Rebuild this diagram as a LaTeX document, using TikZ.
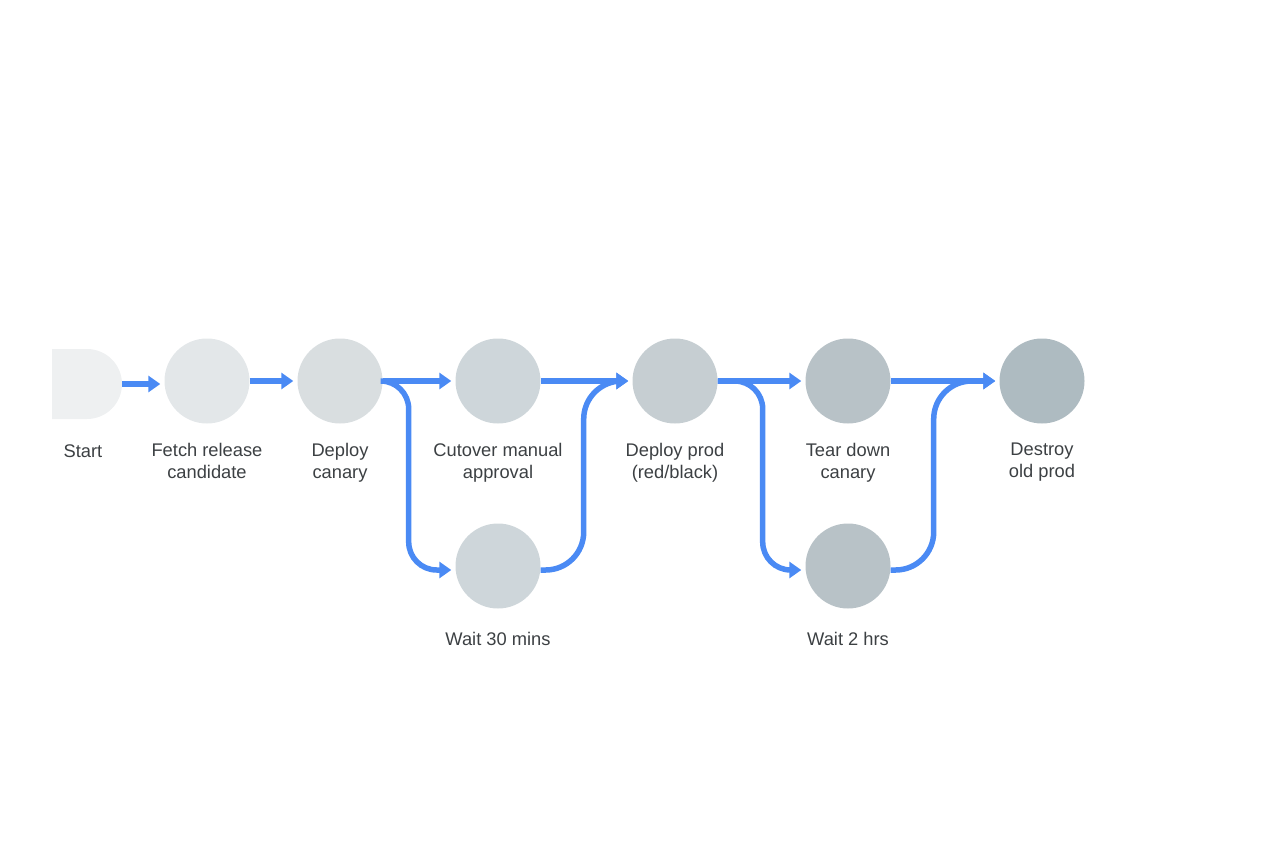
\documentclass[tikz,border=0pt]{standalone}
\usepackage{fontspec}
\setmainfont{Liberation Sans}
\usetikzlibrary{arrows.meta}
\definecolor{flowblue}{HTML}{4A8AF4}
\definecolor{txt}{HTML}{3C4043}
\definecolor{c0}{HTML}{EEF0F1}
\definecolor{c1}{HTML}{E3E7E9}
\definecolor{c2}{HTML}{D9DEE0}
\definecolor{c3}{HTML}{CED6DA}
\definecolor{c4}{HTML}{C6CED2}
\definecolor{c5}{HTML}{B8C2C7}
\definecolor{c6}{HTML}{AEBBC1}
\tikzset{
  stage/.style={circle, minimum size=85pt, inner sep=0pt, fill=#1, draw=none},
  lbl/.style={text=txt, align=center, font=\fontsize{18.3pt}{22pt}\selectfont, inner sep=0pt},
  flow/.style={draw=flowblue, line width=5.5pt, -{Triangle[length=12pt,width=16pt]}, shorten >=4pt},
  bend/.style={flow, rounded corners=#1},
}
\begin{document}
\begin{tikzpicture}[x=1pt,y=-1pt]
\useasboundingbox (0,0) rectangle (1276,856);
% start shape
\fill[c0] (52,349) [rounded corners=35pt]-- (122,349) -- (122,419) [sharp corners]-- (52,419) -- cycle;
\coordinate (start) at (122,384);
\node[stage=c1] (fetch) at (207,381) {};
\node[stage=c2] (canary) at (340,381) {};
\node[stage=c3] (cutover) at (498,381) {};
\node[stage=c3] (wait30) at (498,566) {};
\node[stage=c4] (prod) at (675,381) {};
\node[stage=c5] (tear) at (848,381) {};
\node[stage=c5] (wait2) at (848,566) {};
\node[stage=c6] (destroy) at (1042,381) {};
% labels
\node[lbl] (lstart) at (83,451) {Start};
\node[lbl, anchor=north] (lfetch) at (207,443) {Fetch release\\candidate};
\node[lbl, anchor=north] (lcanary) at (340,443) {Deploy\\canary};
\node[lbl, anchor=north] (lcutover) at (498,443) {Cutover manual\\approval};
\node[lbl, anchor=north] (lprod) at (675,443) {Deploy prod\\(red/black)};
\node[lbl, anchor=north] (ltear) at (848,443) {Tear down\\canary};
\node[lbl, anchor=north] (ldestroy) at (1042,443) {Destroy\\old prod};
\node[lbl] (lwait30) at (498,639) {Wait 30 mins};
\node[lbl] (lwait2) at (848,639) {Wait 2 hrs};
% connectors
\draw[flow] (start) -- (fetch.west |- start);
\draw[flow] (fetch.east) -- (canary.west);
\draw[flow] (canary.east) -- (cutover.west);
\draw[bend=28pt] (canary.east) -- ++(26,0) |- ([yshift=-4pt]wait30.west);
\draw[flow] (cutover.east) -- (prod.west);
\draw[bend=38pt] ([yshift=-4pt]wait30.east) -- ++(43,0) |- (prod.west);
\draw[flow] (prod.east) -- (tear.west);
\draw[bend=28pt] (prod.east) -- ++(45,0) |- ([yshift=-4pt]wait2.west);
\draw[flow] (tear.east) -- (destroy.west);
\draw[bend=38pt] ([yshift=-4pt]wait2.east) -- ++(43,0) |- (destroy.west);
\end{tikzpicture}
\end{document}
